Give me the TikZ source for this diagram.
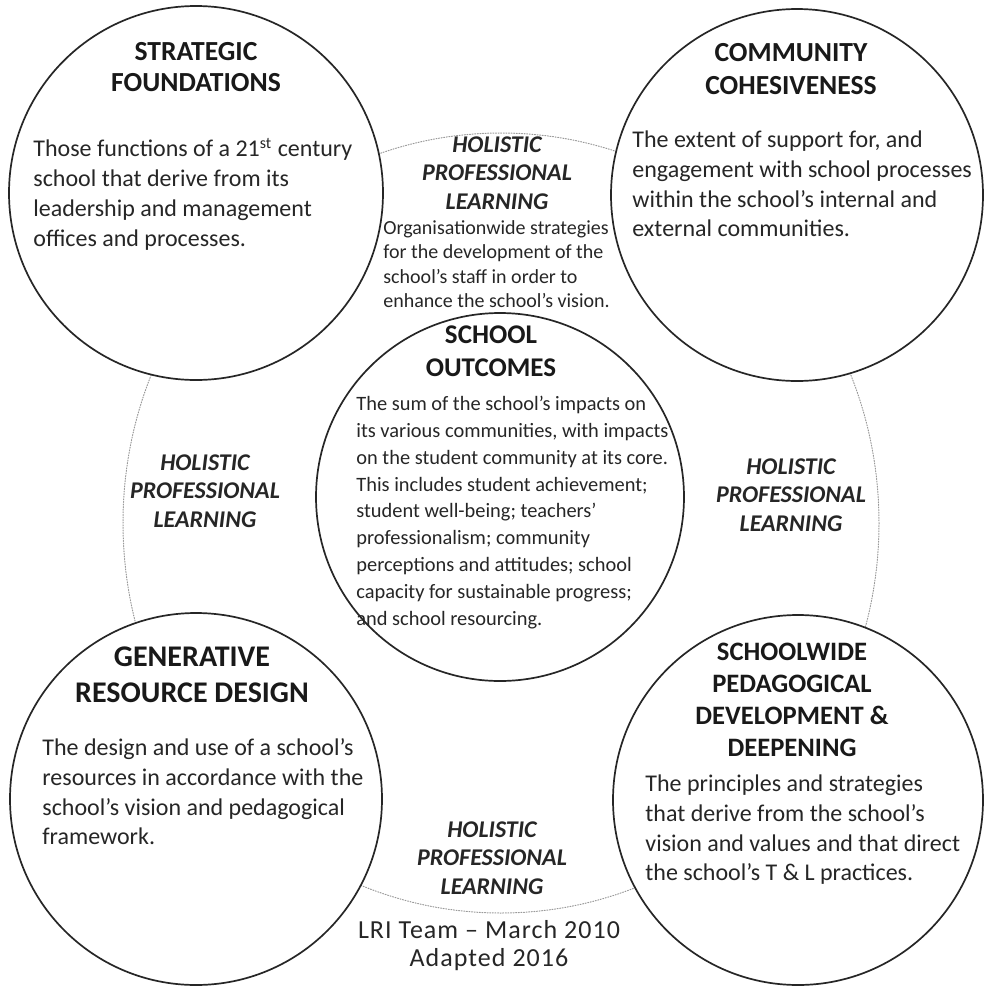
\documentclass[tikz,border=0pt]{standalone}
\usepackage{fontspec}
\setmainfont{Carlito}
\begin{document}
\begin{tikzpicture}[x=0.5pt, y=-0.5pt, line join=round, line cap=round,
    ring/.style={circle, draw=black!85, line width=0.85pt, fill=white, inner sep=0pt},
    head/.style={align=center, inner sep=0pt, text=black!90, font=\bfseries\fontsize{13.8}{15.5}\selectfont},
    body/.style={align=left, anchor=west, inner sep=0pt, text=black!85, font=\fontsize{12}{14.85}\selectfont},
    hpl/.style={align=center, inner sep=0pt, text=black!85, font=\bfseries\itshape\fontsize{12}{14.25}\selectfont}]
    \useasboundingbox (0,0) rectangle (984,986);
    % --- Dotted ring of professional learning ---
    \draw[gray!80, line width=0.5pt, dash pattern=on 0.5pt off 0.8pt] (501,523) ellipse [x radius=378, y radius=390];
    % --- The five circles ---
    \node[ring, minimum size=187pt] (strat) at (196,193) {};
    \node[ring, minimum size=186pt] (commun) at (797,195) {};
    \node[ring, minimum size=186pt] (genres) at (196,799) {};
    \node[ring, minimum size=185pt] (pedag) at (798,800) {};
    \node[ring, minimum size=184pt] (outcome) at (500,497) {};
    % --- Strategic foundations ---
    \node[head] (stratH) at (196,67.5) {STRATEGIC\\FOUNDATIONS};
    \node[body] (stratB) at (33,194) {Those functions of a 21\textsuperscript{st} century\\school that derive from its\\leadership and management\\offices and processes.};
    % --- Community cohesiveness ---
    \node[head, font=\bfseries\fontsize{13.8}{16.5}\selectfont] (communH) at (791,69.5) {COMMUNITY\\COHESIVENESS};
    \node[body] (communB) at (632,184) {The extent of support for, and\\engagement with school processes\\within the school’s internal and\\external communities.};
    % --- Generative resource design ---
    \node[head, font=\bfseries\fontsize{15}{18}\selectfont] (genresH) at (192,675) {GENERATIVE\\RESOURCE DESIGN};
    \node[body] (genresB) at (42,792) {The design and use of a school’s\\resources in accordance with the\\school’s vision and pedagogical\\framework.};
    % --- Schoolwide pedagogical development ---
    \node[head, font=\bfseries\fontsize{13.3}{16}\selectfont] (pedagH) at (792,700) {SCHOOLWIDE\\PEDAGOGICAL\\DEVELOPMENT \&\\DEEPENING};
    \node[body] (pedagB) at (645,830) {The principles and strategies\\that derive from the school’s\\vision and values and that direct\\the school’s T \& L practices.};
    % --- School outcomes ---
    \node[head, font=\bfseries\fontsize{13.5}{16.5}\selectfont] (outcomeH) at (491,351.5) {SCHOOL\\OUTCOMES};
    \node[body, font=\fontsize{10.2}{13.45}\selectfont] (outcomeB) at (356,512.5) {The sum of the school’s impacts on\\its various communities, with impacts\\on the student community at its core.\\This includes student achievement;\\student well-being; teachers’\\professionalism; community\\perceptions and attitudes; school\\capacity for sustainable progress;\\and school resourcing.};
    % --- Holistic professional learning labels ---
    \node[hpl] (hplTop) at (497,173) {HOLISTIC\\PROFESSIONAL\\LEARNING};
    \node[body, font=\fontsize{10}{12.2}\selectfont] (hplTopB) at (383,264) {Organisationwide strategies\\for the development of the\\school’s staff in order to\\enhance the school’s vision.};
    \node[hpl] (hplLeft) at (205,491) {HOLISTIC\\PROFESSIONAL\\LEARNING};
    \node[hpl] (hplRight) at (791,495) {HOLISTIC\\PROFESSIONAL\\LEARNING};
    \node[hpl] (hplBot) at (492,858) {HOLISTIC\\PROFESSIONAL\\LEARNING};
    % --- Credit ---
    \node[align=center, inner sep=0pt, text=black!85, font=\fontsize{13}{14}\selectfont\addfontfeatures{LetterSpace=4}] (credit) at (489,946) {LRI Team – March 2010\\Adapted 2016};
\end{tikzpicture}
\end{document}
